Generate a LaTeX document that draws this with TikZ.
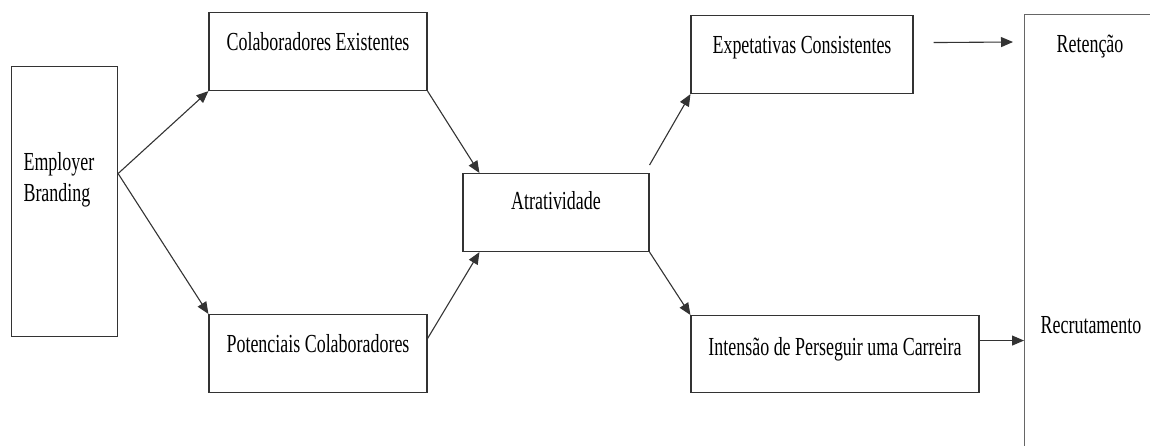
\documentclass[tikz,border=0pt]{standalone}
\usepackage{fontspec}
\setmainfont{Liberation Serif}
\usepackage{graphicx}
\usepackage{tikz}
\usetikzlibrary{arrows.meta}

\newcommand{\narrow}[1]{\scalebox{0.69}[1]{#1}}
\tikzset{
  box/.style={draw=black!80,line width=1.1pt,inner sep=0pt,anchor=north,
    text height=38pt,text depth=40pt},
  lbl/.style={inner sep=0pt}
}

\begin{document}
\begin{tikzpicture}[x=1pt,y=-1pt,font=\fontsize{26}{31}\selectfont,
  >={Triangle[length=12pt,width=10pt]},line width=1.1pt]
\useasboundingbox(0,0)rectangle(1150,446);
\clip(0,0)rectangle(1150,446);
% boxes
\node[draw=black!80,anchor=north west,inner sep=0pt,minimum width=106pt,minimum height=270pt](emp)at(11,66){};
\node[lbl,anchor=north west,align=left](emptxt)at(23,152){\narrow{Employer}\\\narrow{Branding}};
\node[box,minimum width=218pt](colab)at(318,12){\narrow{Colaboradores Existentes}};
\node[box,minimum width=218pt](pot)at(318,314){\narrow{Potenciais Colaboradores}};
\node[box,minimum width=186pt,text height=36pt,text depth=42pt](atr)at(556,173){\narrow{Atratividade}};
\node[box,minimum width=222pt](exp)at(802,15){\narrow{Expetativas Consistentes}};
\node[box,minimum width=288pt,text height=40pt,text depth=37pt](int)at(835,315){\narrow{Intensão de Perseguir uma Carreira}};
\node[draw=black!60,anchor=north west,inner sep=0pt,minimum width=300pt,minimum height=500pt](res)at(1024,14){};
\node[lbl,anchor=base](reten)at(1090,53){\narrow{Retenção}};
\node[lbl,anchor=base](recr)at(1091,333){\narrow{Recrutamento}};
% arrows
\draw[->,black!80]([yshift=28pt]emp.east)--(colab.south west);
\draw[->,black!80]([yshift=28pt]emp.east)--(pot.north west);
\draw[->,black!80](colab.south east)--([xshift=17pt]atr.north west);
\draw[->,black!80]([yshift=15pt]pot.east)--([xshift=17pt]atr.south west);
\draw[->,black!80]([yshift=8pt]atr.north east)--(exp.south west);
\draw[->,black!80](atr.south east)--(int.north west);
\draw[->,black!80]([xshift=20pt,yshift=12pt]exp.east)--([xshift=-11pt,yshift=-28pt]res.north west);
\coordinate(c)at([yshift=13.5pt]int.east);
\draw[->,black!80](c)--(c-|res.west);
\end{tikzpicture}
\end{document}
